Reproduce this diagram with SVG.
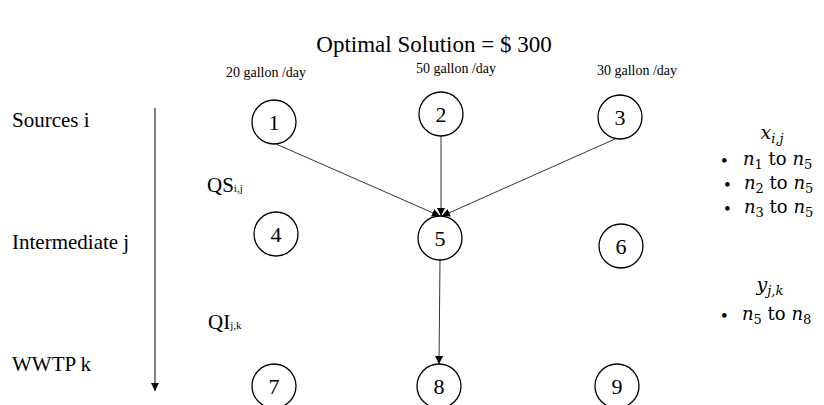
<svg xmlns="http://www.w3.org/2000/svg" width="824" height="405" viewBox="0 0 824 405">
<defs>
<marker id="ah" viewBox="0 0 10 10" refX="10" refY="5" markerWidth="8" markerHeight="8" markerUnits="userSpaceOnUse" orient="auto">
<path d="M0,0 L10,5 L0,10 z" fill="#000"/>
</marker>
<style>
.t{font-family:"Liberation Serif","Times New Roman",serif;fill:#000}
.m{font-family:"DejaVu Serif","Liberation Serif",serif;fill:#000}
.n circle{fill:#fff;stroke:#000;stroke-width:1.3}
.n text{font-family:"Liberation Serif",serif;font-size:22px;text-anchor:middle}
.c line{stroke:#000;stroke-width:0.8;marker-end:url(#ah)}
</style>
</defs>
<rect width="824" height="405" fill="#fff"/>
<text class="t" x="434" y="52" font-size="23" text-anchor="middle">Optimal Solution = $ 300</text>
<text class="t" x="266" y="77" font-size="14" text-anchor="middle">20 gallon /day</text>
<text class="t" x="456" y="73" font-size="14" text-anchor="middle">50 gallon /day</text>
<text class="t" x="637" y="75" font-size="14" text-anchor="middle">30 gallon /day</text>
<text class="t" x="12" y="127" font-size="21">Sources i</text>
<text class="t" x="12" y="249" font-size="21">Intermediate j</text>
<text class="t" x="12" y="371" font-size="21">WWTP k</text>
<text class="t" x="207" y="192" font-size="21">QS<tspan font-size="11">i,j</tspan></text>
<text class="t" x="208" y="329" font-size="21">QI<tspan font-size="11">j,k</tspan></text>
<line x1="155" y1="108" x2="155" y2="391" stroke="#555" stroke-width="1.5" marker-end="url(#ah)"/>
<g class="c" id="connectors">
<line x1="276" y1="144" x2="440" y2="216"/>
<line x1="441" y1="136" x2="441" y2="216"/>
<line x1="615" y1="139" x2="442" y2="216"/>
<line x1="440" y1="260" x2="439" y2="364"/>
</g>
<g class="n" id="n1"><circle cx="274" cy="122" r="22"/><text x="274" y="130">1</text></g>
<g class="n" id="n2"><circle cx="441" cy="114" r="22"/><text x="441" y="122">2</text></g>
<g class="n" id="n3"><circle cx="620" cy="117" r="22"/><text x="620" y="125">3</text></g>
<g class="n" id="n4"><circle cx="276" cy="234" r="22"/><text x="276" y="242">4</text></g>
<g class="n" id="n5"><circle cx="440" cy="238" r="22"/><text x="440" y="246">5</text></g>
<g class="n" id="n6"><circle cx="621" cy="246" r="22"/><text x="621" y="254">6</text></g>
<g class="n" id="n7"><circle cx="274" cy="386" r="22"/><text x="274" y="394">7</text></g>
<g class="n" id="n8"><circle cx="439" cy="386" r="22"/><text x="439" y="394">8</text></g>
<g class="n" id="n9"><circle cx="617" cy="386" r="22"/><text x="617" y="394">9</text></g>
<g id="legend">
<text class="m" x="772" y="139" font-size="19" font-style="italic" text-anchor="middle">x<tspan font-size="13" dy="4">i,j</tspan></text>
<text class="t" x="721" y="167" font-size="19">•</text>
<text class="m" x="743" y="165" font-size="18"><tspan font-style="italic">n</tspan><tspan font-size="13" dy="4">1</tspan><tspan dy="-4"> to </tspan><tspan font-style="italic">n</tspan><tspan font-size="13" dy="4">5</tspan></text>
<text class="t" x="724" y="191" font-size="19">•</text>
<text class="m" x="744" y="189" font-size="18"><tspan font-style="italic">n</tspan><tspan font-size="13" dy="4">2</tspan><tspan dy="-4"> to </tspan><tspan font-style="italic">n</tspan><tspan font-size="13" dy="4">5</tspan></text>
<text class="t" x="724" y="215" font-size="19">•</text>
<text class="m" x="744" y="213" font-size="18"><tspan font-style="italic">n</tspan><tspan font-size="13" dy="4">3</tspan><tspan dy="-4"> to </tspan><tspan font-style="italic">n</tspan><tspan font-size="13" dy="4">5</tspan></text>
<text class="m" x="770" y="291" font-size="19" font-style="italic" text-anchor="middle">y<tspan font-size="13" dy="4">j,k</tspan></text>
<text class="t" x="721" y="322" font-size="19">•</text>
<text class="m" x="742" y="320" font-size="18"><tspan font-style="italic">n</tspan><tspan font-size="13" dy="4">5</tspan><tspan dy="-4"> to </tspan><tspan font-style="italic">n</tspan><tspan font-size="13" dy="4">8</tspan></text>
</g>
</svg>
